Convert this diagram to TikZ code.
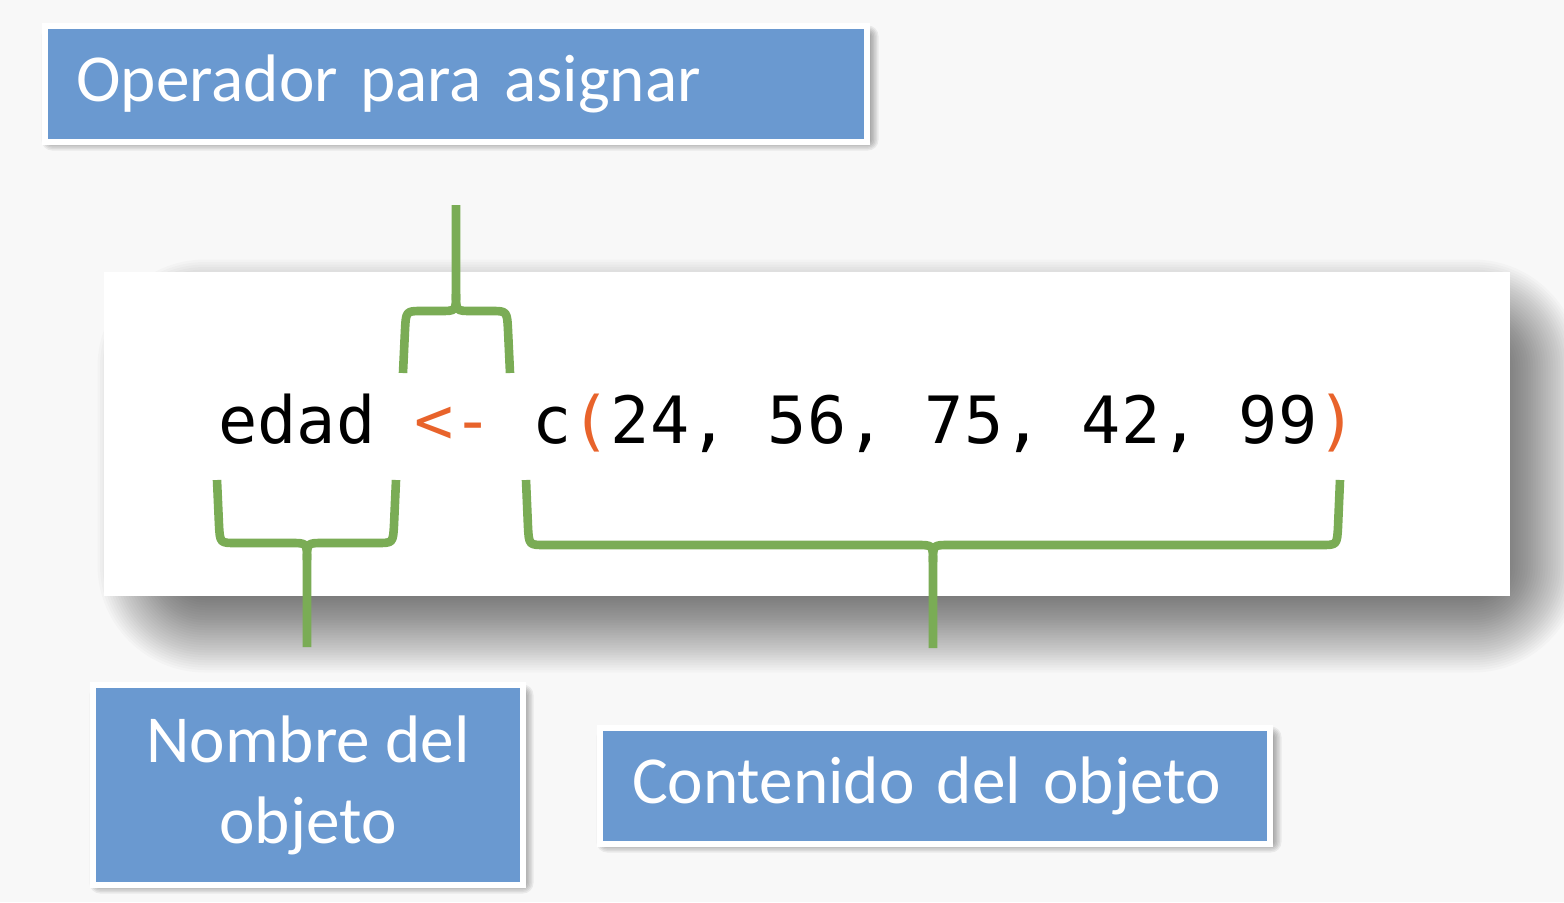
\documentclass[tikz,border=0pt]{standalone}
\usepackage{fontspec}
\newfontfamily\boxfont{Carlito}
\newfontfamily\codefont{DejaVu Sans Mono}
\definecolor{bgc}{HTML}{F8F8F8}
\definecolor{boxblue}{HTML}{6A99D0}
\definecolor{brgreen}{HTML}{7AAC55}
\definecolor{codeorange}{HTML}{E8632B}
% #1..#4 base rect, #5 last layer index, #6 step, #7 opacity, #8 first expansion
\newcommand\softshadow[8]{\foreach \k in {0,...,#5}{\pgfmathsetmacro\ee{#8+\k*#6}\pgfmathsetmacro\rr{\k*#6*0.5}\fill[black,opacity=#7,rounded corners=\rr pt] ({#1-\ee},{#2-\ee}) rectangle ({#3+\ee},{#4+\ee});}}
\begin{document}
\begin{tikzpicture}[x=0.5pt,y=-0.5pt,
  lblbox/.style={fill=boxblue,draw=white,line width=3pt,inner sep=0pt,text=white,
     font=\boxfont\fontsize{33.6}{40.5}\selectfont},
  bracepath/.style={draw=brgreen,line width=4.3pt,line join=round,line cap=butt}]
% canvas
\fill[bgc] (0,0) rectangle (1564,902);
\useasboundingbox (0,0) rectangle (1564,902);
% panel shadow and panel
\softshadow{150}{312}{1528}{620}{43}{2.5}{0.018}{-55}
\node[fill=white,inner sep=0pt,minimum width=703pt,minimum height=162pt] (panel) at (807,434) {};
% box shadows
\softshadow{46}{30}{874}{146}{7}{1.5}{0.06}{-6}
\softshadow{94}{689}{529}{889}{7}{1.5}{0.06}{-6}
\softshadow{601}{731}{1277}{848}{7}{1.5}{0.06}{-6}
% boxes
\node[lblbox,minimum height=58pt,text width=380pt,inner xsep=15.5pt,align=left] (op) at (456.25,84) {Operador para asignar};
\node[lblbox,minimum width=215pt,minimum height=100pt,align=center] (nom) at (308,785) {Nombre del\\objeto};
\node[lblbox,minimum height=58pt,text width=303pt,inner xsep=16pt,align=left] (cont) at (935,786) {Contenido del objeto};
% code
\node[anchor=base west,inner sep=0pt,font=\codefont\fontsize{32.6}{38}\selectfont] (code) at (218,443)
  {\frenchspacing edad \textcolor{codeorange}{<-} c\textcolor{codeorange}{(}24, 56, 75, 42, 99\textcolor{codeorange}{)}};
% brace end coordinates
\coordinate (opstem) at (456,205);
\coordinate (nomstem) at (307,647);
\coordinate (contstem) at (933,648);
% top brace (operator)
\draw[bracepath] (403,373) -- (405,330) .. controls (406,311) .. (422,311) -- (440,311) .. controls (456,311) .. (456,294) -- (opstem);
\draw[bracepath] (510,373) -- (508,330) .. controls (507,311) .. (491,311) -- (472,311) .. controls (456,311) .. (456,294);
% bottom-left brace (name)
\draw[bracepath] (217,480) -- (219,525) .. controls (220,543) .. (236,543) -- (291,543) .. controls (307,543) .. (307,560) -- (nomstem);
\draw[bracepath] (396,480) -- (394,525) .. controls (393,543) .. (377,543) -- (323,543) .. controls (307,543) .. (307,560);
% bottom-right brace (content)
\draw[bracepath] (526,480) -- (528,527) .. controls (529,545) .. (545,545) -- (917,545) .. controls (933,545) .. (933,562) -- (contstem);
\draw[bracepath] (1340,480) -- (1338,527) .. controls (1337,545) .. (1321,545) -- (949,545) .. controls (933,545) .. (933,562);
\end{tikzpicture}
\end{document}
